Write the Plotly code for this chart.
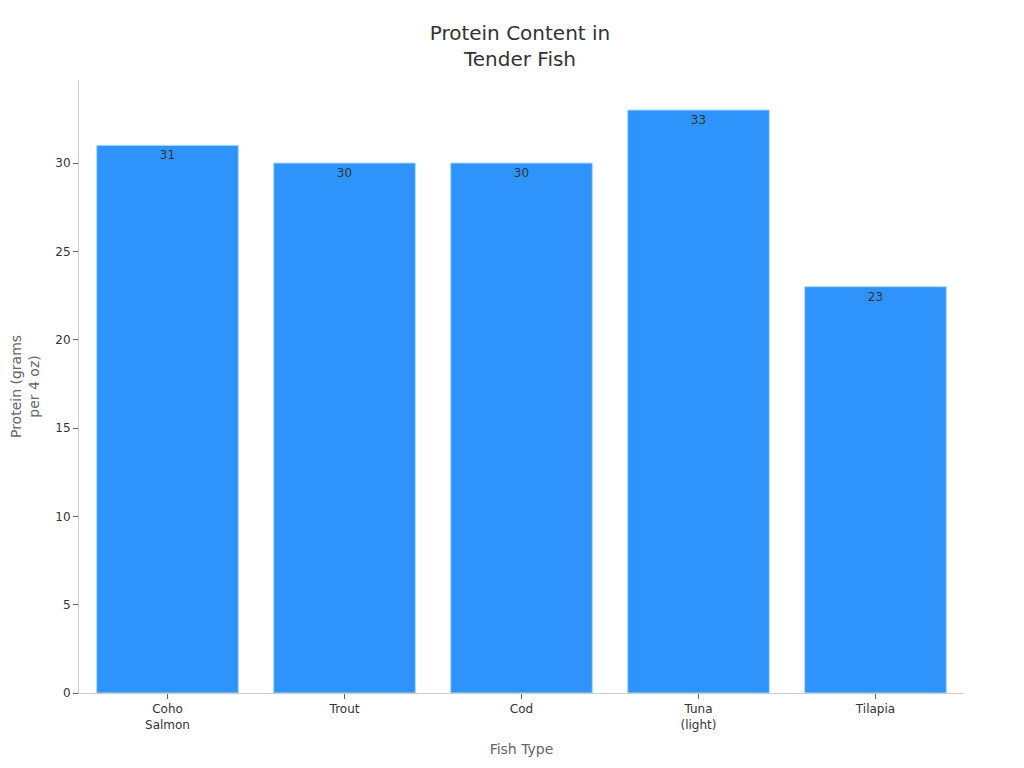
import plotly.graph_objects as go

fish = ['Coho<br>Salmon', 'Trout', 'Cod', 'Tuna<br>(light)', 'Tilapia']
protein = [31, 30, 30, 33, 23]

fig = go.Figure(data=[
    go.Bar(x=fish, y=protein, text=protein, textposition='inside', insidetextanchor='end',
           textfont=dict(color='#333333', size=12), textangle=0,
           marker=dict(color='#2E93FA', line=dict(color='#A8D8FF', width=1)))
])

fig.update_layout(
    width=1024, height=768,
    font=dict(family='DejaVu Sans', color='#333333'),
    title=dict(text='Protein Content in<br>Tender Fish', x=0.5, xanchor='center', y=0.958,
               font=dict(size=20, color='#333333')),
    plot_bgcolor='white', paper_bgcolor='white',
    margin=dict(l=71, r=68, t=72, b=83),
    bargap=0.2,
    showlegend=False,
)
fig.update_xaxes(title=dict(text='Fish Type', font=dict(size=14, color='#666666'), standoff=13),
                 showline=True, linecolor='#cccccc', ticks='outside', tickcolor='#666666', ticklen=5,
                 tickfont=dict(size=12, color='#333333'))
fig.update_yaxes(title=dict(text='Protein (grams<br>per 4 oz)', font=dict(size=14, color='#666666'), standoff=19),
                 automargin=False,
                 range=[0, 34.7], showline=True, linecolor='#cccccc', showgrid=False, zeroline=False,
                 ticks='outside', tickcolor='#666666', ticklen=5, dtick=5,
                 tickfont=dict(size=12, color='#333333'))

fig.write_html('out.html')
